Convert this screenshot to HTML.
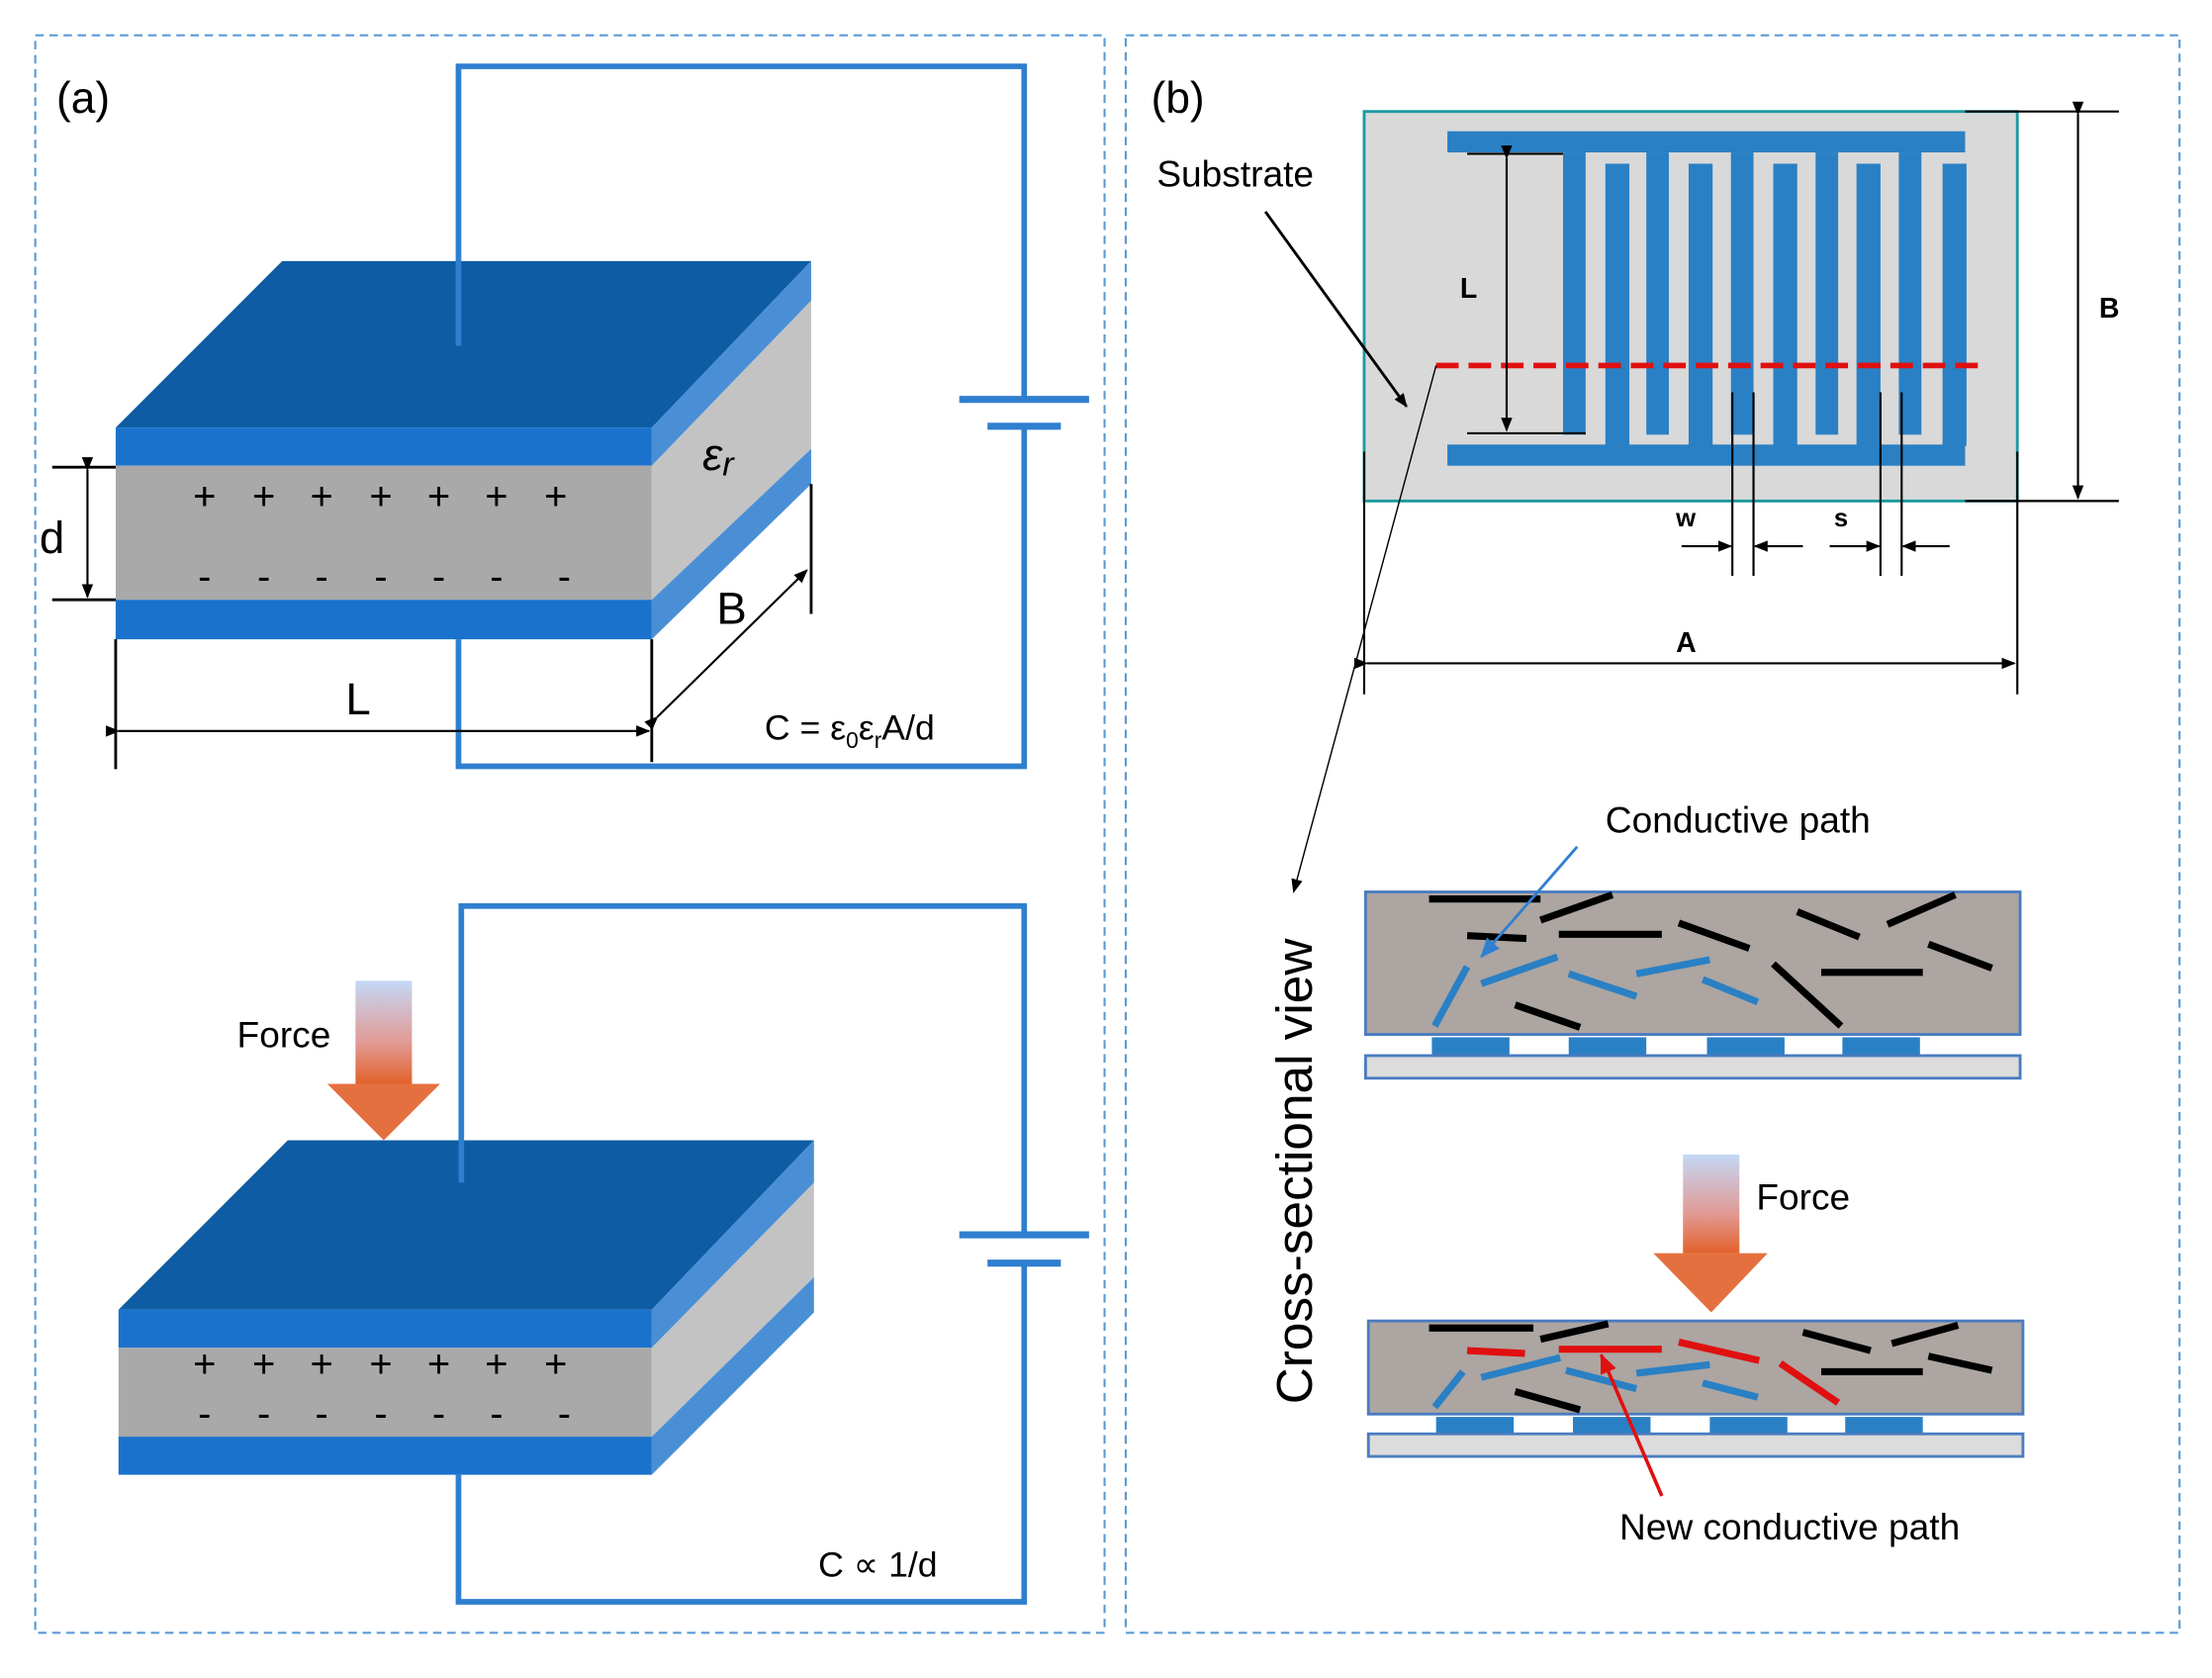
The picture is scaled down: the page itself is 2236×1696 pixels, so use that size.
<!DOCTYPE html>
<html><head><meta charset="utf-8"><style>
html,body{margin:0;padding:0;background:#fff;}
svg{display:block;}
text{font-family:"Liberation Sans",sans-serif;}
</style></head><body>
<svg width="2236" height="1696" viewBox="0 0 1568 1189" preserveAspectRatio="none" xmlns="http://www.w3.org/2000/svg">
<defs>
<marker id="ah" markerWidth="10" markerHeight="10" refX="9" refY="5" orient="auto" markerUnits="userSpaceOnUse"><path d="M0,1 L10,5 L0,9 z" fill="#000"/></marker>
<marker id="ahb" markerWidth="14" markerHeight="14" refX="13" refY="7" orient="auto" markerUnits="userSpaceOnUse"><path d="M0,1 L14,7 L0,13 z" fill="#2f7fd0"/></marker>
<marker id="ahr" markerWidth="14" markerHeight="14" refX="13" refY="7" orient="auto" markerUnits="userSpaceOnUse"><path d="M0,1 L14,7 L0,13 z" fill="#e01010"/></marker>
<linearGradient id="fg" x1="0" y1="0" x2="0" y2="1"><stop offset="0" stop-color="#c4d8f6"/><stop offset="0.6" stop-color="#e19a94"/><stop offset="1" stop-color="#e2612a"/></linearGradient>
</defs>
<!-- panels -->
<rect x="25" y="25" width="758" height="1132" fill="none" stroke="#5b9bd5" stroke-width="1.5" stroke-dasharray="6,4"/>
<rect x="798" y="25" width="747" height="1132" fill="none" stroke="#5b9bd5" stroke-width="1.5" stroke-dasharray="6,4"/>
<text x="40" y="80" font-size="31">(a)</text>
<text x="816" y="80" font-size="31">(b)</text>

<!-- top capacitor -->
<g>
<polyline points="325,245 325,47 726,47 726,283" fill="none" stroke="#2f7fd0" stroke-width="4"/>
<polyline points="726,302 726,543 325,543 325,453" fill="none" stroke="#2f7fd0" stroke-width="4"/>
<line x1="680" y1="283" x2="772" y2="283" stroke="#2f7fd0" stroke-width="5"/>
<line x1="700" y1="302" x2="752" y2="302" stroke="#2f7fd0" stroke-width="5"/>
<polygon points="82,303 200,185 575,185 462,303" fill="#0e5ca3"/>
<polygon points="462,303 575,185 575,213 462,330" fill="#4a8fd6"/>
<rect x="82" y="303" width="380" height="27" fill="#1a72cc"/>
<polygon points="462,330 575,213 575,318 462,425" fill="#c3c3c3"/>
<rect x="82" y="330" width="380" height="95" fill="#a9a9a9"/>
<polygon points="462,425 575,318 575,343 462,453" fill="#4a8fd6"/>
<rect x="82" y="425" width="380" height="28" fill="#1a72cc"/>
<line x1="325" y1="185" x2="325" y2="245" stroke="#2f7fd0" stroke-width="4"/>
<text x="145" y="361" font-size="28" text-anchor="middle" letter-spacing="0">+</text>
<g font-size="28" text-anchor="middle">
<text x="145" y="361">+</text><text x="187" y="361">+</text><text x="228" y="361">+</text><text x="270" y="361">+</text><text x="311" y="361">+</text><text x="352" y="361">+</text><text x="394" y="361">+</text>
<text x="145" y="418">-</text><text x="187" y="418">-</text><text x="228" y="418">-</text><text x="270" y="418">-</text><text x="311" y="418">-</text><text x="352" y="418">-</text><text x="400" y="418">-</text>
</g>
<text x="498" y="333" font-size="32" font-family="Liberation Serif" font-style="italic">ε<tspan font-size="24" dy="4">r</tspan></text>
<!-- dims -->
<line x1="37" y1="331" x2="82" y2="331" stroke="#000" stroke-width="2"/>
<line x1="37" y1="425" x2="82" y2="425" stroke="#000" stroke-width="2"/>
<line x1="62" y1="333" x2="62" y2="423" stroke="#000" stroke-width="1.5" marker-start="url(#ah)" marker-end="url(#ah)"/>
<text x="28" y="392" font-size="32">d</text>
<line x1="82" y1="453" x2="82" y2="545" stroke="#000" stroke-width="2"/>
<line x1="462" y1="453" x2="462" y2="540" stroke="#000" stroke-width="2"/>
<line x1="84" y1="518" x2="460" y2="518" stroke="#000" stroke-width="1.5" marker-start="url(#ah)" marker-end="url(#ah)"/>
<text x="245" y="506" font-size="32">L</text>
<line x1="575" y1="343" x2="575" y2="435" stroke="#000" stroke-width="2"/>
<line x1="466" y1="508" x2="572" y2="404" stroke="#000" stroke-width="1.5" marker-start="url(#ah)" marker-end="url(#ah)"/>
<text x="508" y="442" font-size="32">B</text>
<text x="542" y="524" font-size="25">C = ε<tspan font-size="16" dy="6">0</tspan><tspan dy="-6">ε</tspan><tspan font-size="16" dy="6">r</tspan><tspan dy="-6">A/d</tspan></text>
</g>

<!-- bottom capacitor -->
<g>
<polyline points="327,838 327,642 726,642 726,875" fill="none" stroke="#2f7fd0" stroke-width="4"/>
<polyline points="726,895 726,1135 325,1135 325,1045" fill="none" stroke="#2f7fd0" stroke-width="4"/>
<line x1="680" y1="875" x2="772" y2="875" stroke="#2f7fd0" stroke-width="5"/>
<line x1="700" y1="895" x2="752" y2="895" stroke="#2f7fd0" stroke-width="5"/>
<polygon points="84,928 204,808 577,808 462,928" fill="#0e5ca3"/>
<polygon points="462,928 577,808 577,838 462,955" fill="#4a8fd6"/>
<rect x="84" y="928" width="378" height="27" fill="#1a72cc"/>
<polygon points="462,955 577,838 577,905 462,1018" fill="#c3c3c3"/>
<rect x="84" y="955" width="378" height="63" fill="#a9a9a9"/>
<polygon points="462,1018 577,905 577,930 462,1045" fill="#4a8fd6"/>
<rect x="84" y="1018" width="378" height="27" fill="#1a72cc"/>
<line x1="327" y1="808" x2="327" y2="838" stroke="#2f7fd0" stroke-width="4"/>
<g font-size="28" text-anchor="middle">
<text x="145" y="976">+</text><text x="187" y="976">+</text><text x="228" y="976">+</text><text x="270" y="976">+</text><text x="311" y="976">+</text><text x="352" y="976">+</text><text x="394" y="976">+</text>
<text x="145" y="1011">-</text><text x="187" y="1011">-</text><text x="228" y="1011">-</text><text x="270" y="1011">-</text><text x="311" y="1011">-</text><text x="352" y="1011">-</text><text x="400" y="1011">-</text>
</g>
<rect x="252" y="695" width="40" height="73" fill="url(#fg)"/>
<polygon points="232,768 312,768 272,808" fill="#e2612a" opacity="0.9"/>
<text x="168" y="742" font-size="26">Force</text>
<text x="580" y="1117" font-size="25">C ∝ 1/d</text>
</g>

<!-- panel b top: IDE -->
<rect x="967" y="79" width="463" height="276" fill="#d9d9d9" stroke="#1a9aa0" stroke-width="2"/>
<g fill="#2a80c4">
<rect x="1026" y="93" width="367" height="15"/>
<rect x="1026" y="315" width="367" height="15"/>
<rect x="1108" y="108" width="16" height="200"/>
<rect x="1167" y="108" width="16" height="200"/>
<rect x="1227" y="108" width="16" height="200"/>
<rect x="1287" y="108" width="16" height="200"/>
<rect x="1346" y="108" width="16" height="200"/>
<rect x="1138" y="116" width="17" height="200"/>
<rect x="1197" y="116" width="17" height="200"/>
<rect x="1257" y="116" width="17" height="200"/>
<rect x="1316" y="116" width="17" height="200"/>
<rect x="1377" y="116" width="17" height="200"/>
</g>
<line x1="1018" y1="259" x2="1408" y2="259" stroke="#e01010" stroke-width="4" stroke-dasharray="16,7"/>
<g stroke="#000" stroke-width="1.5" fill="none">
<line x1="1040" y1="109" x2="1108" y2="109"/>
<line x1="1040" y1="307" x2="1124" y2="307"/>
<line x1="1068" y1="112" x2="1068" y2="305" marker-start="url(#ah)" marker-end="url(#ah)"/>
<line x1="1393" y1="79" x2="1502" y2="79"/>
<line x1="1393" y1="355" x2="1502" y2="355"/>
<line x1="1473" y1="81" x2="1473" y2="353" marker-start="url(#ah)" marker-end="url(#ah)"/>
<line x1="967" y1="320" x2="967" y2="492"/>
<line x1="1430" y1="320" x2="1430" y2="492"/>
<line x1="969" y1="470" x2="1428" y2="470" marker-start="url(#ah)" marker-end="url(#ah)"/>
<line x1="1228" y1="278" x2="1228" y2="408"/>
<line x1="1243" y1="278" x2="1243" y2="408"/>
<line x1="1333" y1="278" x2="1333" y2="408"/>
<line x1="1348" y1="278" x2="1348" y2="408"/>
<line x1="1192" y1="387" x2="1227" y2="387" marker-end="url(#ah)"/>
<line x1="1278" y1="387" x2="1244" y2="387" marker-end="url(#ah)"/>
<line x1="1297" y1="387" x2="1332" y2="387" marker-end="url(#ah)"/>
<line x1="1382" y1="387" x2="1349" y2="387" marker-end="url(#ah)"/>
<line x1="897" y1="150" x2="997" y2="288" stroke-width="2" marker-end="url(#ah)"/>
<line x1="1018" y1="259" x2="917" y2="632" stroke-width="1" marker-end="url(#ah)"/>
</g>
<text x="1035" y="211" font-size="20" font-weight="bold">L</text>
<text x="1488" y="225" font-size="20" font-weight="bold">B</text>
<text x="1188" y="462" font-size="20" font-weight="bold">A</text>
<text x="1188" y="373" font-size="18" font-weight="bold">w</text>
<text x="1300" y="373" font-size="18" font-weight="bold">s</text>
<text x="820" y="132" font-size="26">Substrate</text>

<!-- cross section top -->
<rect x="968" y="632" width="464" height="101" fill="#aca5a1" stroke="#4a7cc0" stroke-width="2"/>
<g fill="#2a80c4"><rect x="1015" y="735" width="55" height="13"/><rect x="1112" y="735" width="55" height="13"/><rect x="1210" y="735" width="55" height="13"/><rect x="1306" y="735" width="55" height="13"/></g>
<rect x="968" y="748" width="464" height="16" fill="#dcdcdc" stroke="#4a7cc0" stroke-width="2"/>
<g stroke="#000" stroke-width="5">
<line x1="1013" y1="637" x2="1092" y2="637"/><line x1="1092" y1="652" x2="1143" y2="634"/>
<line x1="1040" y1="663" x2="1082" y2="665"/><line x1="1105" y1="662" x2="1178" y2="662"/>
<line x1="1190" y1="654" x2="1240" y2="672"/><line x1="1274" y1="646" x2="1318" y2="664"/>
<line x1="1338" y1="655" x2="1386" y2="634"/><line x1="1291" y1="689" x2="1363" y2="689"/>
<line x1="1367" y1="669" x2="1412" y2="686"/><line x1="1257" y1="683" x2="1305" y2="727"/>
<line x1="1074" y1="712" x2="1120" y2="728"/>
</g>
<g stroke="#2a80c4" stroke-width="5">
<line x1="1017" y1="727" x2="1040" y2="685"/><line x1="1050" y1="697" x2="1104" y2="678"/>
<line x1="1112" y1="690" x2="1160" y2="706"/><line x1="1160" y1="690" x2="1212" y2="680"/>
<line x1="1207" y1="694" x2="1246" y2="710"/>
</g>
<line x1="1118" y1="600" x2="1050" y2="678" stroke="#2f7fd0" stroke-width="2" marker-end="url(#ahb)"/>
<text x="1138" y="590" font-size="26">Conductive path</text>

<!-- force b -->
<rect x="1193" y="818" width="40" height="70" fill="url(#fg)"/>
<polygon points="1172,888 1253,888 1213,930" fill="#e2612a" opacity="0.9"/>
<text x="1245" y="857" font-size="26">Force</text>

<!-- cross section bottom -->
<rect x="970" y="936" width="464" height="66" fill="#aca5a1" stroke="#4a7cc0" stroke-width="2"/>
<g fill="#2a80c4"><rect x="1018" y="1004" width="55" height="12"/><rect x="1115" y="1004" width="55" height="12"/><rect x="1212" y="1004" width="55" height="12"/><rect x="1308" y="1004" width="55" height="12"/></g>
<rect x="970" y="1016" width="464" height="16" fill="#dcdcdc" stroke="#4a7cc0" stroke-width="2"/>
<g stroke="#000" stroke-width="5">
<line x1="1013" y1="941" x2="1087" y2="941"/><line x1="1092" y1="949" x2="1140" y2="938"/>
<line x1="1278" y1="944" x2="1326" y2="957"/><line x1="1341" y1="952" x2="1388" y2="939"/>
<line x1="1291" y1="972" x2="1363" y2="972"/><line x1="1367" y1="961" x2="1412" y2="971"/>
<line x1="1074" y1="986" x2="1120" y2="999"/>
</g>
<g stroke="#e01010" stroke-width="5">
<line x1="1040" y1="957" x2="1081" y2="959"/><line x1="1105" y1="956" x2="1178" y2="956"/>
<line x1="1190" y1="951" x2="1247" y2="964"/><line x1="1262" y1="966" x2="1303" y2="994"/>
</g>
<g stroke="#2a80c4" stroke-width="5">
<line x1="1017" y1="997" x2="1037" y2="972"/><line x1="1050" y1="976" x2="1106" y2="962"/>
<line x1="1110" y1="971" x2="1160" y2="984"/><line x1="1160" y1="973" x2="1212" y2="967"/>
<line x1="1207" y1="980" x2="1246" y2="990"/>
</g>
<line x1="1178" y1="1060" x2="1135" y2="960" stroke="#e01010" stroke-width="2.5" marker-end="url(#ahr)"/>
<text x="1148" y="1091" font-size="26">New conductive path</text>

<text transform="translate(930,830) rotate(-90)" font-size="36" text-anchor="middle">Cross-sectional view</text>
</svg>
</body></html>
